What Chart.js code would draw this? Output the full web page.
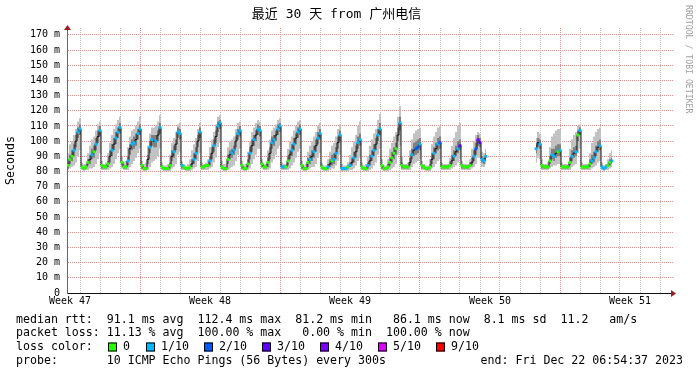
<!DOCTYPE html>
<html>
<head>
<meta charset="utf-8">
<title>最近 30 天 from 广州电信</title>
<script src="https://cdn.jsdelivr.net/npm/chart.js@4.4.1/dist/chart.umd.min.js"></script>
<style>
  html, body { margin: 0; padding: 0; background: #fff; }
  canvas { display: block; }
</style>
</head>
<body>
<canvas id="ping-chart" width="697" height="375"></canvas>
<script>
// one sample = 2.4 h (a 2px column of the rrd graph), counted from the left edge
const sampleDays = 0.1;
// Week 47 starts 3.35 days before the left edge of the graph
const firstWeekStart = -3.35;
const weekLabels = ["Week 47", "Week 48", "Week 49", "Week 50", "Week 51"];

// median rtt in ms, one line per day (the sharp drop starts each line)
const median = [
  84, 88, 90, 94, 100, 106, 108,
  83, 82, 83, 86, 88, 91, 93, 98, 103, 107,
  84, 83, 83, 85, 90, 94, 98, 102, 106, 109,
  86, 83, 83, 87, 95, 98, 99, 101, 105, 108,
  84, 82, 82, 88, 96, 101, 100, 100, 104, 109,
  83, 82, 82, 82, 84, 90, 93, 98, 106, 105,
  84, 83, 82, 82, 83, 85, 88, 92, 100, 106,
  83, 83, 84, 84, 87, 92, 97, 103, 110, 112,
  83, 82, 82, 88, 91, 92, 94, 100, 105, 107,
  84, 82, 82, 85, 92, 97, 101, 104, 108, 107,
  85, 83, 83, 86, 92, 99, 101, 104, 108, 110,
  83, 83, 83, 87, 91, 94, 98, 102, 106, 108,
  84, 82, 82, 86, 88, 90, 93, 97, 102, 105,
  83, 82, 82, 83, 85, 87, 88, 92, 99, 104,
  82, 82, 82, 83, 84, 86, 89, 93, 99, 101,
  83, 82, 82, 84, 87, 90, 94, 98, 104, 108,
  84, 82, 82, 83, 86, 89, 92, 95, 104, 112,
  84, 83, 83, 83, 86, 91, 94, 95, 96, 98,
  84, 83, 82, 82, 83, 88, 92, 95, 98, 99,
  83, 83, 83, 83, 84, 87, 90, 93, 95, 97,
  84, 83, 83, 83, 84, 86, 90, 95, 101, 99,
  88, 87, 90,
  null, null, null, null, null, null, null, null, null, null, null, null,
  null, null, null, null, null, null, null, null, null, null, null, null,
  95, 99, 98,
  84, 83, 83, 83, 87, 91, 90, 92, 93, 94,
  83, 83, 83, 83, 86, 90, 92, 93, 104, 107,
  83, 83, 83, 83, 85, 87, 89, 93, 96, 97,
  83, 82, 83, 84, 86, 87
];

// outer smoke (slowest / fastest pings)
const smokeHigh = [
  92, 98, 100, 104, 108, 113, 115,
  86, 85, 85, 92, 97, 101, 103, 107, 111, 113,
  87, 85, 86, 92, 99, 104, 108, 111, 114, 116,
  90, 86, 87, 96, 103, 107, 108, 110, 113, 116,
  87, 85, 86, 97, 105, 109, 109, 110, 113, 117,
  86, 84, 84, 85, 91, 99, 102, 106, 111, 112,
  87, 85, 84, 85, 88, 94, 98, 102, 108, 112,
  86, 85, 86, 88, 96, 101, 106, 111, 116, 117,
  87, 85, 85, 96, 100, 101, 103, 108, 112, 113,
  87, 84, 85, 93, 100, 106, 109, 112, 114, 113,
  88, 85, 85, 94, 101, 107, 109, 111, 114, 115,
  86, 85, 85, 95, 100, 103, 107, 110, 113, 114,
  87, 84, 85, 93, 97, 100, 103, 106, 110, 112,
  86, 84, 84, 88, 93, 97, 99, 103, 108, 111,
  85, 84, 84, 86, 91, 96, 100, 104, 110, 113,
  86, 84, 85, 90, 97, 101, 105, 108, 114, 118,
  88, 84, 84, 88, 95, 99, 103, 106, 116, 123,
  90, 85, 85, 86, 94, 101, 105, 107, 108, 109,
  87, 85, 84, 84, 88, 98, 103, 106, 109, 110,
  86, 85, 85, 85, 89, 97, 102, 106, 110, 112,
  87, 85, 85, 85, 88, 95, 100, 104, 106, 105,
  93, 92, 95,
  null, null, null, null, null, null, null, null, null, null, null, null,
  null, null, null, null, null, null, null, null, null, null, null, null,
  102, 106, 105,
  88, 85, 85, 86, 96, 103, 105, 107, 108, 108,
  86, 85, 85, 85, 95, 101, 104, 106, 110, 111,
  86, 85, 85, 85, 92, 99, 103, 106, 108, 109,
  86, 84, 85, 88, 92, 94
];
const smokeLow = [
  81, 82, 83, 84, 86, 90, 94,
  81, 80, 81, 81, 82, 82, 83, 85, 88, 92,
  81, 81, 81, 81, 82, 83, 85, 88, 92, 95,
  82, 81, 81, 81, 83, 85, 87, 89, 92, 95,
  81, 80, 80, 81, 83, 86, 87, 88, 90, 95,
  81, 80, 80, 80, 80, 82, 83, 85, 91, 93,
  81, 81, 80, 80, 80, 81, 82, 83, 87, 92,
  81, 81, 81, 81, 82, 83, 86, 89, 96, 99,
  81, 80, 80, 81, 82, 83, 84, 87, 91, 95,
  81, 80, 80, 81, 82, 85, 88, 91, 95, 95,
  82, 81, 81, 81, 82, 86, 88, 91, 95, 97,
  81, 81, 81, 81, 82, 84, 86, 89, 93, 95,
  81, 80, 80, 81, 82, 83, 83, 85, 89, 92,
  81, 80, 80, 80, 81, 82, 82, 84, 87, 91,
  80, 80, 80, 80, 81, 81, 82, 84, 87, 89,
  81, 80, 80, 80, 81, 82, 84, 86, 91, 95,
  81, 80, 80, 80, 81, 82, 83, 85, 91, 97,
  81, 81, 81, 81, 81, 83, 85, 86, 87, 88,
  81, 81, 80, 80, 80, 82, 83, 85, 87, 88,
  81, 81, 81, 81, 81, 82, 83, 84, 86, 88,
  81, 81, 81, 81, 81, 82, 83, 85, 89, 89,
  83, 83, 85,
  null, null, null, null, null, null, null, null, null, null, null, null,
  null, null, null, null, null, null, null, null, null, null, null, null,
  86, 89, 88,
  81, 81, 81, 81, 82, 83, 84, 84, 85, 85,
  81, 81, 81, 81, 81, 83, 84, 85, 92, 95,
  81, 81, 81, 81, 81, 82, 83, 84, 86, 87,
  81, 80, 81, 81, 82, 83
];

// dense smoke around the median
const coreHigh = [
  86, 91, 94, 98, 104, 109, 111,
  84, 83, 84, 88, 91, 95, 97, 102, 107, 110,
  85, 84, 84, 87, 94, 98, 102, 106, 109, 112,
  87, 84, 84, 90, 98, 101, 103, 105, 108, 111,
  85, 83, 83, 91, 100, 104, 104, 104, 107, 112,
  84, 83, 83, 83, 86, 94, 97, 101, 109, 108,
  85, 84, 83, 83, 84, 88, 92, 96, 104, 109,
  84, 84, 85, 85, 90, 96, 101, 107, 113, 114,
  84, 83, 83, 91, 94, 95, 97, 103, 108, 110,
  85, 83, 83, 88, 96, 101, 104, 107, 111, 110,
  86, 84, 84, 89, 96, 103, 104, 107, 111, 112,
  84, 84, 84, 90, 94, 98, 102, 105, 109, 111,
  85, 83, 83, 89, 91, 94, 97, 101, 106, 108,
  84, 83, 83, 85, 88, 91, 92, 96, 103, 107,
  83, 83, 83, 84, 86, 89, 93, 97, 103, 105,
  84, 83, 83, 86, 91, 94, 98, 102, 108, 112,
  85, 83, 83, 85, 89, 93, 96, 99, 109, 116,
  86, 84, 84, 84, 89, 95, 99, 100, 101, 102,
  85, 84, 83, 83, 85, 92, 96, 99, 102, 103,
  84, 84, 84, 84, 86, 91, 94, 97, 100, 101,
  85, 84, 84, 84, 86, 89, 94, 99, 104, 102,
  90, 89, 92,
  null, null, null, null, null, null, null, null, null, null, null, null,
  null, null, null, null, null, null, null, null, null, null, null, null,
  98, 102, 101,
  85, 84, 84, 84, 90, 95, 95, 97, 98, 98,
  84, 84, 84, 84, 89, 94, 96, 97, 107, 109,
  84, 84, 84, 84, 88, 91, 93, 97, 100, 101,
  84, 83, 84, 85, 88, 89
];
const coreLow = [
  82, 85, 87, 90, 96, 102, 104,
  82, 81, 82, 84, 85, 88, 89, 94, 99, 103,
  82, 82, 82, 83, 86, 90, 94, 98, 102, 105,
  84, 82, 82, 84, 91, 94, 95, 97, 101, 104,
  82, 81, 81, 85, 92, 97, 96, 96, 100, 105,
  82, 81, 81, 81, 82, 87, 89, 94, 102, 101,
  82, 82, 81, 81, 82, 83, 85, 88, 96, 102,
  82, 82, 83, 83, 84, 88, 93, 99, 106, 108,
  82, 81, 81, 85, 88, 89, 91, 96, 101, 103,
  82, 81, 81, 83, 88, 93, 97, 100, 104, 103,
  83, 82, 82, 83, 88, 95, 97, 100, 104, 106,
  82, 82, 82, 84, 88, 90, 94, 98, 102, 104,
  82, 81, 81, 83, 85, 87, 89, 93, 98, 101,
  82, 81, 81, 82, 83, 84, 85, 88, 95, 100,
  81, 81, 81, 82, 83, 84, 86, 89, 95, 97,
  82, 81, 81, 82, 84, 87, 90, 94, 100, 104,
  82, 81, 81, 82, 84, 86, 88, 91, 100, 107,
  82, 82, 82, 82, 84, 88, 90, 91, 92, 94,
  82, 82, 81, 81, 82, 85, 88, 92, 94, 95,
  82, 82, 82, 82, 83, 85, 87, 90, 92, 94,
  82, 82, 82, 82, 83, 84, 87, 91, 97, 96,
  86, 85, 88,
  null, null, null, null, null, null, null, null, null, null, null, null,
  null, null, null, null, null, null, null, null, null, null, null, null,
  92, 96, 95,
  82, 82, 82, 82, 85, 88, 87, 89, 90, 90,
  82, 82, 82, 82, 84, 87, 89, 90, 100, 104,
  82, 82, 82, 82, 83, 85, 86, 90, 93, 94,
  82, 81, 82, 83, 84, 85
];

// packet loss marker per sample, in tenths ("." = no marker drawn)
const lossMarks =
  "0001.11" +
  "0000.101.1" + "0000.1.111" + "0001.11.11" + "000.11.1.1" + "00000.1.11" +
  "10000.11.1" + "00001.1.11" + "0000.11.11" + "00001.1.11" + "0000.11.11" +
  "1100.11.11" + "00001.1.11" + "0001.011.1" + "11101.1.11" + "0001.11.11" +
  "00000000.1" + "0000.1.221" + "00000.1.12" + "00000.1.13" + "00000.1243" +
  "111" +
  "........................" +
  "1.1" +
  "0000011.01" + "000001.101" + "00000111.1" + "111001";

const lossLevels = ["0", "1/10", "2/10", "3/10", "4/10", "5/10", "9/10"];
const lossTenths = [0, 1, 2, 3, 4, 5, 9];
const lossColors = ["#26ff00", "#00b8ff", "#0059ff", "#5e00ff", "#7e00ff", "#dd00ff", "#ff0000"];

const legendLines = [
  "median rtt:  91.1 ms avg  112.4 ms max  81.2 ms min   86.1 ms now  8.1 ms sd  11.2   am/s",
  "packet loss: 11.13 % avg  100.00 % max   0.00 % min  100.00 % now"
];
const probeText = "probe:       10 ICMP Echo Pings (56 Bytes) every 300s";
const endText = "end: Fri Dec 22 06:54:37 2023";

const chartFont = "'DejaVu Sans Mono', 'Noto Sans CJK SC', monospace";

function points(values) {
  return values.map((v, i) => ({ x: (i + 0.5) * sampleDays, y: v }));
}

function lossColor(mark) {
  return lossColors[lossTenths.indexOf(Number(mark))];
}

// arrows, watermark and the rrd style legend under the graph
const decorations = {
  id: "decorations",
  afterDraw: function(chart) {
    let ctx = chart.ctx;
    let area = chart.chartArea;
    ctx.save();

    ctx.fillStyle = "#9b1c1c";
    ctx.beginPath();
    ctx.moveTo(area.left + 0.5, area.top - 3);
    ctx.lineTo(area.left - 3, area.top + 2);
    ctx.lineTo(area.left + 4, area.top + 2);
    ctx.fill();
    ctx.beginPath();
    ctx.moveTo(area.right + 3, area.bottom + 0.5);
    ctx.lineTo(area.right - 2, area.bottom - 3);
    ctx.lineTo(area.right - 2, area.bottom + 4);
    ctx.fill();

    ctx.save();
    ctx.translate(688, 5);
    ctx.rotate(Math.PI / 2);
    ctx.font = "8.2px " + chartFont;
    ctx.fillStyle = "#a0a0a0";
    ctx.textBaseline = "middle";
    ctx.fillText("RRDTOOL / TOBI OETIKER", 0, 0);
    ctx.restore();

    ctx.font = "11.6px " + chartFont;
    ctx.fillStyle = "#000";
    ctx.textBaseline = "middle";
    ctx.fillText(legendLines[0], 16, 319.5);
    ctx.fillText(legendLines[1], 16, 333);
    ctx.fillText("loss color:", 16, 347);

    let boxX = [108, 146, 204, 262, 320, 378, 436];
    lossLevels.forEach(function(level, k) {
      ctx.fillStyle = lossColors[k];
      ctx.fillRect(boxX[k], 342.5, 9, 9);
      ctx.strokeStyle = "#000";
      ctx.lineWidth = 1;
      ctx.strokeRect(boxX[k] + 0.5, 343, 8, 8);
      ctx.fillStyle = "#000";
      ctx.fillText(level, boxX[k] + 15, 347);
    });

    ctx.fillText(probeText, 16, 361);
    ctx.textAlign = "right";
    ctx.fillText(endText, 683, 361);
    ctx.restore();
  }
};

let bandStyle = {
  borderWidth: 0,
  borderColor: "transparent",
  pointRadius: 0,
  stepped: "middle"
};

new Chart(document.getElementById("ping-chart"), {
  type: "line",
  data: {
    datasets: [
      Object.assign({ label: "smoke", data: points(smokeHigh), fill: "+1", backgroundColor: "#c2c2c2", order: 5 }, bandStyle),
      Object.assign({ label: "smoke low", data: points(smokeLow), fill: false, order: 5 }, bandStyle),
      Object.assign({ label: "core", data: points(coreHigh), fill: "+1", backgroundColor: "#808080", order: 4 }, bandStyle),
      Object.assign({ label: "core low", data: points(coreLow), fill: false, order: 4 }, bandStyle),
      {
        label: "median rtt",
        data: points(median),
        borderColor: "#111",
        borderWidth: 1,
        pointRadius: 0,
        stepped: "middle",
        fill: false,
        order: 2
      },
      {
        label: "loss",
        data: points(median),
        showLine: false,
        pointStyle: "rect",
        pointBorderWidth: 0,
        pointRadius: function(c) {
          return lossMarks[c.dataIndex] === "." ? 0 : 2;
        },
        pointBackgroundColor: function(c) {
          return lossColor(lossMarks[c.dataIndex]) || "transparent";
        },
        order: 1
      }
    ]
  },
  options: {
    responsive: false,
    animation: false,
    events: [],
    layout: { padding: { top: 0, right: 24, bottom: 64, left: 0 } },
    plugins: {
      legend: { display: false },
      tooltip: { enabled: false },
      title: {
        display: true,
        text: "最近 30 天 from 广州电信",
        color: "#000",
        font: { family: chartFont, size: 13, weight: "normal" },
        padding: { top: 7, bottom: 5.4 }
      }
    },
    scales: {
      x: {
        type: "linear",
        min: 0,
        max: 30.3,
        afterFit: function(scale) { scale.height = 18; },
        afterBuildTicks: function(scale) {
          let ticks = [];
          for (let d = 4; d < 34; d++) {
            ticks.push({ value: firstWeekStart + d, week: (d % 7 === 0) });
          }
          weekLabels.forEach(function(name, k) {
            ticks.push({ value: firstWeekStart + 3.5 + 7 * k, name: name });
          });
          ticks.sort((a, b) => a.value - b.value);
          scale.ticks = ticks;
        },
        ticks: {
          autoSkip: false,
          maxRotation: 0,
          padding: 2,
          color: "#000",
          font: { family: chartFont, size: 10 },
          callback: function(value, index, ticks) {
            return ticks[index].name || "";
          }
        },
        grid: {
          drawTicks: false,
          lineWidth: 1,
          color: function(c) {
            if (!c.tick || c.tick.name) return "transparent";
            return c.tick.week ? "#e09090" : "#bdbdbd";
          }
        },
        border: { display: true, color: "#111", width: 1, dash: [1, 1] }
      },
      y: {
        min: 0,
        max: 174.5,
        afterFit: function(scale) { scale.width = 67; },
        afterBuildTicks: function(scale) {
          let ticks = [];
          for (let v = 0; v <= 170; v += 5) ticks.push({ value: v });
          scale.ticks = ticks;
        },
        title: {
          display: true,
          text: "Seconds",
          color: "#000",
          font: { family: chartFont, size: 11.6 },
          padding: { top: 4, bottom: 0 }
        },
        ticks: {
          padding: 7,
          color: "#000",
          font: { family: chartFont, size: 10 },
          callback: function(value) {
            if (value % 10 !== 0) return "";
            return value === 0 ? "0" : value + " m";
          }
        },
        grid: {
          drawTicks: false,
          lineWidth: 1,
          color: function(c) {
            if (!c.tick) return "transparent";
            return c.tick.value % 10 === 0 ? "#e09090" : "#bdbdbd";
          }
        },
        border: { display: true, color: "#666", width: 1, dash: [1, 1] }
      }
    }
  },
  plugins: [decorations]
});
</script>
</body>
</html>
